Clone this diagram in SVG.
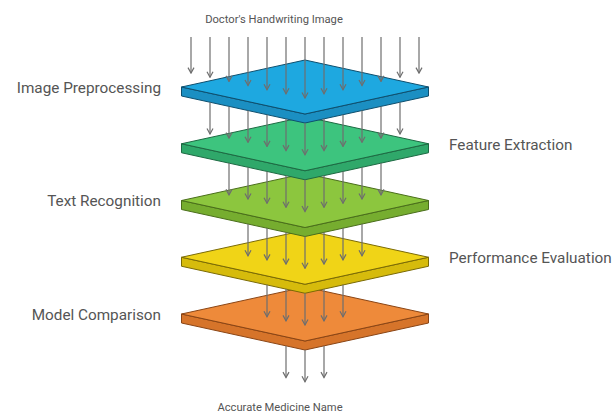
<svg xmlns="http://www.w3.org/2000/svg" width="616" height="417" viewBox="0 0 616 417">
<style>
.lbl{font-family:Roboto,"Liberation Sans",sans-serif;font-size:15.3px;fill:#555}
.ttl{font-family:Roboto,"Liberation Sans",sans-serif;font-size:11.2px;fill:#555}
.face{stroke-width:1;stroke-linejoin:round}
.arr{stroke:#6e6e6e;stroke-width:1.2;fill:none}
</style>
<defs>
<marker id="ah" viewBox="0 0 8 8" refX="7" refY="4" markerWidth="8" markerHeight="8" markerUnits="userSpaceOnUse" orient="auto">
<path d="M1.5,1 L7,4 L1.5,7" fill="none" stroke="#6e6e6e" stroke-width="1.2"/>
</marker>
</defs>
<rect width="616" height="417" fill="#fff"/>
<g id="layer-model-comparison">
<polygon class="face" points="181.5,314 305,341 428.5,314 428.5,323 305,350 181.5,323" fill="#d6742a" stroke="#8a4515"/>
<polygon class="face" points="181.5,314 305,287 428.5,314 305,341" fill="#ee8a3a" stroke="#8a4515"/>
</g>
<g id="layer-performance-evaluation">
<polygon class="face" points="181.5,257.25 305,284.25 428.5,257.25 428.5,266.25 305,293.25 181.5,266.25" fill="#d6bb0c" stroke="#7a6a05"/>
<polygon class="face" points="181.5,257.25 305,230.25 428.5,257.25 305,284.25" fill="#f0d417" stroke="#7a6a05"/>
</g>
<g id="layer-text-recognition">
<polygon class="face" points="181.5,200.5 305,227.5 428.5,200.5 428.5,209.5 305,236.5 181.5,209.5" fill="#76ad2f" stroke="#4a6e1b"/>
<polygon class="face" points="181.5,200.5 305,173.5 428.5,200.5 305,227.5" fill="#8cc63e" stroke="#4a6e1b"/>
</g>
<g id="layer-feature-extraction">
<polygon class="face" points="181.5,143.75 305,170.75 428.5,143.75 428.5,152.75 305,179.75 181.5,152.75" fill="#2fa86a" stroke="#1d6a43"/>
<polygon class="face" points="181.5,143.75 305,116.75 428.5,143.75 305,170.75" fill="#3dc47e" stroke="#1d6a43"/>
</g>
<g id="layer-image-preprocessing">
<polygon class="face" points="181.5,87 305,114 428.5,87 428.5,96 305,123 181.5,96" fill="#1b8fc2" stroke="#0e4f6e"/>
<polygon class="face" points="181.5,87 305,60 428.5,87 305,114" fill="#1ea8e0" stroke="#0e4f6e"/>
</g>
<g id="connectors" class="arr" marker-end="url(#ah)">
<path d="M191,37V73.1"/><path d="M210,37V77.2"/><path d="M229,37V81.4"/><path d="M248,37V85.5"/><path d="M267,37V89.7"/><path d="M286,37V93.8"/><path d="M305,37V98"/><path d="M324,37V93.8"/><path d="M343,37V89.7"/><path d="M362,37V85.5"/><path d="M381,37V81.4"/><path d="M400,37V77.2"/><path d="M419,37V73.1"/>
<path d="M210,102.2V134"/><path d="M229,106.4V138.1"/><path d="M248,110.5V142.3"/><path d="M267,114.7V146.4"/><path d="M286,118.8V150.6"/><path d="M305,123V154.75"/><path d="M324,118.8V150.6"/><path d="M343,114.7V146.4"/><path d="M362,110.5V142.3"/><path d="M381,106.4V138.1"/><path d="M400,102.2V134"/>
<path d="M229,163.1V194.9"/><path d="M248,167.2V199"/><path d="M267,171.4V203.2"/><path d="M286,175.6V207.3"/><path d="M305,179.75V211.5"/><path d="M324,175.6V207.3"/><path d="M343,171.4V203.2"/><path d="M362,167.2V199"/><path d="M381,163.1V194.9"/>
<path d="M248,223.9V255.8"/><path d="M267,228.1V259.9"/><path d="M286,232.3V264.1"/><path d="M305,236.5V268.25"/><path d="M324,232.3V264.1"/><path d="M343,228.1V259.9"/><path d="M362,223.9V255.8"/>
<path d="M267,284.8V316.7"/><path d="M286,289V320.9"/><path d="M305,293.25V325"/><path d="M324,289V320.9"/><path d="M343,284.8V316.7"/>
<path d="M286,345.9V377.6"/><path d="M305,350V381.75"/><path d="M324,345.9V377.6"/>
</g>
<g id="labels">
<text class="ttl" x="274" y="23" text-anchor="middle">Doctor's Handwriting Image</text>
<text class="lbl" x="161" y="93" text-anchor="end">Image Preprocessing</text>
<text class="lbl" x="449" y="150">Feature Extraction</text>
<text class="lbl" x="161" y="206" text-anchor="end">Text Recognition</text>
<text class="lbl" x="449" y="263">Performance Evaluation</text>
<text class="lbl" x="161" y="320" text-anchor="end">Model Comparison</text>
<text class="ttl" x="280" y="411" text-anchor="middle">Accurate Medicine Name</text>
</g>
</svg>
